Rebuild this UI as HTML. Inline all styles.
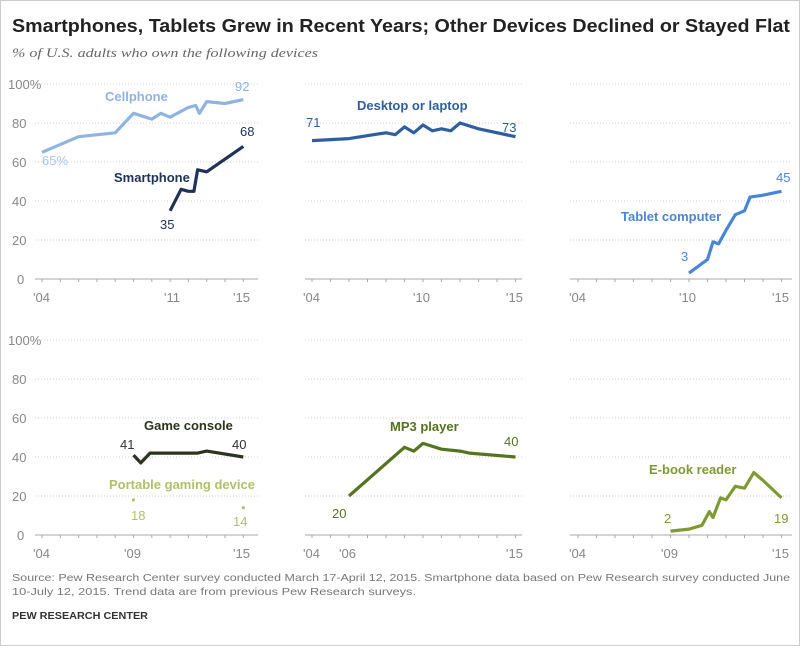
<!DOCTYPE html>
<html><head><meta charset="utf-8"><style>
body{margin:0;background:#fff;}
svg{display:block;font-family:"Liberation Sans",sans-serif;}
</style></head><body>
<svg id="s" width="800" height="646" viewBox="0 0 800 646">
<rect x="0.5" y="0.5" width="799" height="645" fill="#fff" stroke="#ccc"/>
<text x="12" y="32" font-size="18" font-weight="bold" fill="#222" textLength="778" lengthAdjust="spacingAndGlyphs">Smartphones, Tablets Grew in Recent Years; Other Devices Declined or Stayed Flat</text>
<text x="12" y="57" font-size="13" font-style="italic" font-family="Liberation Serif,serif" fill="#666" textLength="306" lengthAdjust="spacingAndGlyphs">% of U.S. adults who own the following devices</text>
<g id="grid"></g>
<g font-size="13" fill="#888">
<text x="8" y="89">100%</text><text x="12" y="128">80</text><text x="12" y="167">60</text><text x="12" y="206">40</text><text x="12" y="245">20</text><text x="17" y="284">0</text>
<text x="8" y="345">100%</text><text x="12" y="384">80</text><text x="12" y="423">60</text><text x="12" y="462">40</text><text x="12" y="501">20</text><text x="17" y="540">0</text>
<text x="33" y="302">'04</text><text x="164" y="302">'11</text><text x="233" y="302">'15</text>
<text x="303" y="302">'04</text><text x="413" y="302">'10</text><text x="506" y="302">'15</text>
<text x="569" y="302">'04</text><text x="679" y="302">'10</text><text x="772" y="302">'15</text>
<text x="33" y="558">'04</text><text x="124" y="558">'09</text><text x="233" y="558">'15</text>
<text x="303" y="558">'04</text><text x="339" y="558">'06</text><text x="506" y="558">'15</text>
<text x="569" y="558">'04</text><text x="661" y="558">'09</text><text x="772" y="558">'15</text>
</g>
<g id="lines"></g>
<g font-size="13">
<text x="105" y="101" font-weight="bold" fill="#8fb4e3">Cellphone</text>
<text x="42" y="165" fill="#a9c5ea">65%</text>
<text x="235" y="91" fill="#8fb4e3">92</text>
<text x="114" y="182" font-weight="bold" fill="#1f3358">Smartphone</text>
<text x="160" y="229" fill="#1f3358">35</text>
<text x="240" y="136" fill="#1f3358">68</text>
<text x="357" y="110" font-weight="bold" fill="#2e5f9e">Desktop or laptop</text>
<text x="306" y="127" fill="#2e5f9e">71</text>
<text x="502" y="132" fill="#2e5f9e">73</text>
<text x="621" y="221" font-weight="bold" fill="#4a86d6">Tablet computer</text>
<text x="681" y="261" fill="#4a86d6">3</text>
<text x="776" y="182" fill="#4a86d6">45</text>
<text x="144" y="430" font-weight="bold" fill="#2b351e">Game console</text>
<text x="120" y="449" fill="#333">41</text>
<text x="232" y="449" fill="#333">40</text>
<text x="109" y="489" font-weight="bold" fill="#b2c06a">Portable gaming device</text>
<text x="131" y="520" fill="#b2c06a">18</text>
<text x="233" y="526" fill="#b2c06a">14</text>
<text x="390" y="431" font-weight="bold" fill="#557420">MP3 player</text>
<text x="332" y="518" fill="#557420">20</text>
<text x="504" y="446" fill="#557420">40</text>
<text x="649" y="474" font-weight="bold" fill="#7f9a32">E-book reader</text>
<text x="664" y="523" fill="#7f9a32">2</text>
<text x="774" y="523" fill="#7f9a32">19</text>
</g>
<text x="12" y="581" font-size="10.5" fill="#777" textLength="778" lengthAdjust="spacingAndGlyphs">Source:  Pew Research Center survey conducted March 17-April 12, 2015. Smartphone data based on Pew Research survey conducted June</text>
<text x="12" y="595" font-size="10.5" fill="#777" textLength="404" lengthAdjust="spacingAndGlyphs">10-July 12, 2015.  Trend data are from previous Pew Research surveys.</text>
<text x="12" y="619" font-size="10.5" font-weight="bold" fill="#333" textLength="136" lengthAdjust="spacingAndGlyphs">PEW RESEARCH CENTER</text>
</svg>
<script>
var NS="http://www.w3.org/2000/svg";
var X0=[42,312,578],XS=[18.3,18.5,18.5],L=[35,305,570],R=[258,522,792],B=[279,535];
function px(p,y){return X0[p]+(y-2004)*XS[p];}
function py(r,v){return B[r]-v*1.95;}
var g=document.getElementById('grid'),ln=document.getElementById('lines');
function el(par,t,a){var e=document.createElementNS(NS,t);for(var k in a)e.setAttribute(k,a[k]);par.appendChild(e);return e;}
for(var r=0;r<2;r++)for(var p=0;p<3;p++){
 for(var v=20;v<=100;v+=20)el(g,'line',{x1:L[p],x2:R[p],y1:py(r,v),y2:py(r,v),stroke:'#d0d0d0','stroke-dasharray':'1,2'});
 el(g,'line',{x1:L[p],x2:R[p],y1:B[r],y2:B[r],stroke:'#aaa'});
 for(var y=2004;y<=2015;y++)el(g,'line',{x1:px(p,y),x2:px(p,y),y1:B[r],y2:B[r]+3,stroke:'#aaa'});
}
function line(p,r,d,c,w){var s=d.map(function(q){return px(p,q[0]).toFixed(1)+','+py(r,q[1]).toFixed(1)}).join(' ');el(ln,'polyline',{points:s,fill:'none',stroke:c,'stroke-width':w||3.2,'stroke-linejoin':'round'});}
line(0,0,[[2004,65],[2006,73],[2008,75],[2009,85],[2010,82],[2010.5,85],[2011,83],[2012,88],[2012.4,89],[2012.6,85],[2013,91],[2014,90],[2015,92]],'#8fb4e3');
line(0,0,[[2011,35],[2011.6,46],[2012,45],[2012.3,45],[2012.5,56],[2013,55],[2015,68]],'#1f3358');
line(1,0,[[2004,71],[2006,72],[2008,75],[2008.5,74],[2009,78],[2009.5,75],[2010,79],[2010.5,76],[2011,77],[2011.5,76],[2012,80],[2013,77],[2015,73]],'#2e5f9e');
line(2,0,[[2010,3],[2011,10],[2011.3,19],[2011.6,18],[2012,25],[2012.5,33],[2013,35],[2013.3,42],[2014,43],[2015,45]],'#4a86d6');
line(0,1,[[2009,41],[2009.4,37],[2009.9,42],[2012.5,42],[2013,43],[2015,40]],'#2b351e');
el(ln,'circle',{cx:px(0,2009),cy:py(1,18),r:1.6,fill:'#b2c06a'});
el(ln,'circle',{cx:px(0,2015),cy:py(1,14),r:1.6,fill:'#b2c06a'});
line(1,1,[[2006,20],[2009,45],[2009.5,43],[2010,47],[2011,44],[2012,43],[2012.5,42],[2015,40]],'#557420');
line(2,1,[[2009,2],[2010,3],[2010.7,5],[2011.1,12],[2011.3,9],[2011.7,19],[2012,18],[2012.5,25],[2013,24],[2013.5,32],[2014,28],[2015,19]],'#7f9a32');
</script>
</body></html>
